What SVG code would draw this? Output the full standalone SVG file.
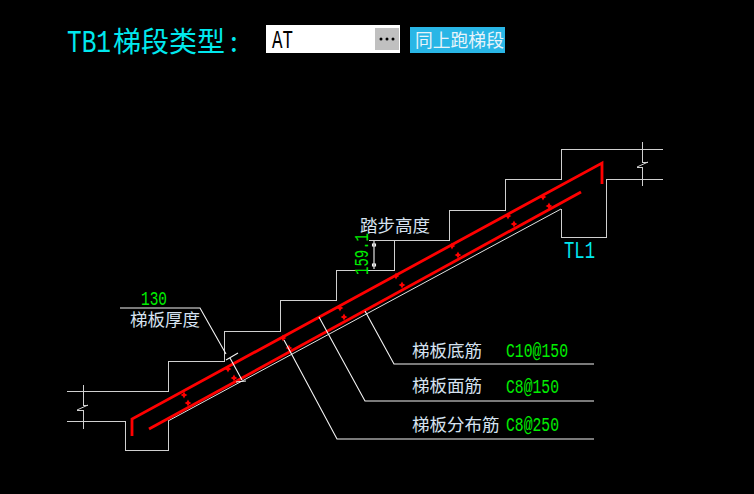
<svg xmlns="http://www.w3.org/2000/svg" xmlns:xlink="http://www.w3.org/1999/xlink" width="754" height="494" viewBox="0 0 754 494">
<style>
text{font-family:"Liberation Mono","Noto Sans CJK SC",monospace}
.cn{font-family:"Noto Sans CJK SC",sans-serif;font-size:17.500px;fill:#d6e2f0}
.gr{fill:#00ee00;font-size:21px}
.concrete{fill:none;stroke:#d0d0d0;stroke-width:1;shape-rendering:crispEdges}
.lead{fill:none;stroke:#f4f4f4;stroke-width:1.1}
.rebar{fill:none;stroke:#f00;stroke-width:2.800}
</style>
<defs><path id="dot" d="M0-3.400 1.200-1.200 3.400 0 1.200 1.200 0 3.400-1.200 1.200-3.400 0-1.200-1.200Z" fill="#f00"/></defs>
<rect width="754" height="494" fill="#000"/>
<g id="header">
<text x="67" y="52" font-size="32" fill="#00e8ee" textLength="44" lengthAdjust="spacingAndGlyphs">TB1</text>
<text x="113" y="52" font-size="28" fill="#00e8ee" style="font-family:'Noto Sans CJK SC',sans-serif">梯段类型<tspan dx="5">:</tspan></text>
<rect x="266" y="25" width="134" height="28" fill="#fff"/>
<text x="272" y="47.500" font-size="25" fill="#000" textLength="21" lengthAdjust="spacingAndGlyphs">AT</text>
<rect x="375" y="28" width="24" height="22" fill="#c0c0c0"/>
<g fill="#000"><circle cx="381" cy="39" r="1.500"/><circle cx="387" cy="39" r="1.500"/><circle cx="393" cy="39" r="1.500"/></g>
<rect x="410" y="27" width="95" height="26" fill="#29b6e6"/>
<text x="415" y="47" font-size="17.800" fill="#e8f4fa" style="font-family:'Noto Sans CJK SC',sans-serif">同上跑梯段</text>
</g>
<g id="stair">
<path class="concrete" d="M67 391H168V361H224V331H280V300H336V270H394V240H369M394 240H449V210H505V179H561V149H663M663 179H606V237H561V209M168 421V450H125V421H67"/>
<path fill="none" stroke="#e0e0e0" stroke-width="1" d="M168 421 561 209"/>
<path class="concrete" d="M83 385V405H88M77 410H83V429M642 142V162H648M637 167H642V186"/>
<path fill="none" stroke="#d0d0d0" stroke-width="1" d="M88 405 77 410M648 162 637 167"/>
</g>
<g id="rebar">
<path class="rebar" d="M132 436V419L602 163V184"/>
<path class="rebar" d="M149 429 581 192"/>
<use xlink:href="#dot" x="184" y="395"/><use xlink:href="#dot" x="188" y="403"/>
<use xlink:href="#dot" x="228" y="369"/><use xlink:href="#dot" x="234" y="378"/>
<use xlink:href="#dot" x="283" y="338"/><use xlink:href="#dot" x="289" y="348"/>
<use xlink:href="#dot" x="340" y="308"/><use xlink:href="#dot" x="344" y="317"/>
<use xlink:href="#dot" x="396" y="276"/><use xlink:href="#dot" x="402" y="285"/>
<use xlink:href="#dot" x="452" y="246"/><use xlink:href="#dot" x="458" y="255"/>
<use xlink:href="#dot" x="508" y="216"/><use xlink:href="#dot" x="514" y="224"/>
<use xlink:href="#dot" x="543" y="197"/><use xlink:href="#dot" x="549" y="206"/>
</g>
<g id="connectors">
<path class="lead" d="M120 308H200L226 354"/>
<path class="lead" d="M230 358 242 380M226 360 238 353M236 382 246 381"/>
<path class="lead" d="M365 311 394 364H594"/>
<path class="lead" d="M319 317 365 401H594"/>
<path class="lead" d="M284 340 337 439H594"/>
<path class="lead" d="M374 241V269M372.500 244H375.500V246H372.500ZM372.500 264H375.500V266H372.500Z"/>
</g>
<g id="labels">
<text x="141" y="304.500" class="gr" textLength="26" lengthAdjust="spacingAndGlyphs">130</text>
<text x="130" y="326" class="cn">梯板厚度</text>
<text x="360" y="232" class="cn">踏步高度</text>
<text transform="translate(368 275) rotate(-90)" class="gr" textLength="42" lengthAdjust="spacingAndGlyphs">159.1</text>
<text x="564" y="258" font-size="23" fill="#00e8ee" textLength="31" lengthAdjust="spacingAndGlyphs">TL1</text>
<text x="412" y="357" class="cn">梯板底筋</text>
<text x="506" y="357" class="gr" textLength="62" lengthAdjust="spacingAndGlyphs">C10@150</text>
<text x="412" y="392" class="cn">梯板面筋</text>
<text x="506" y="393" class="gr" textLength="53" lengthAdjust="spacingAndGlyphs">C8@150</text>
<text x="412" y="431" class="cn">梯板分布筋</text>
<text x="506" y="431" class="gr" textLength="53" lengthAdjust="spacingAndGlyphs">C8@250</text>
</g>
</svg>
